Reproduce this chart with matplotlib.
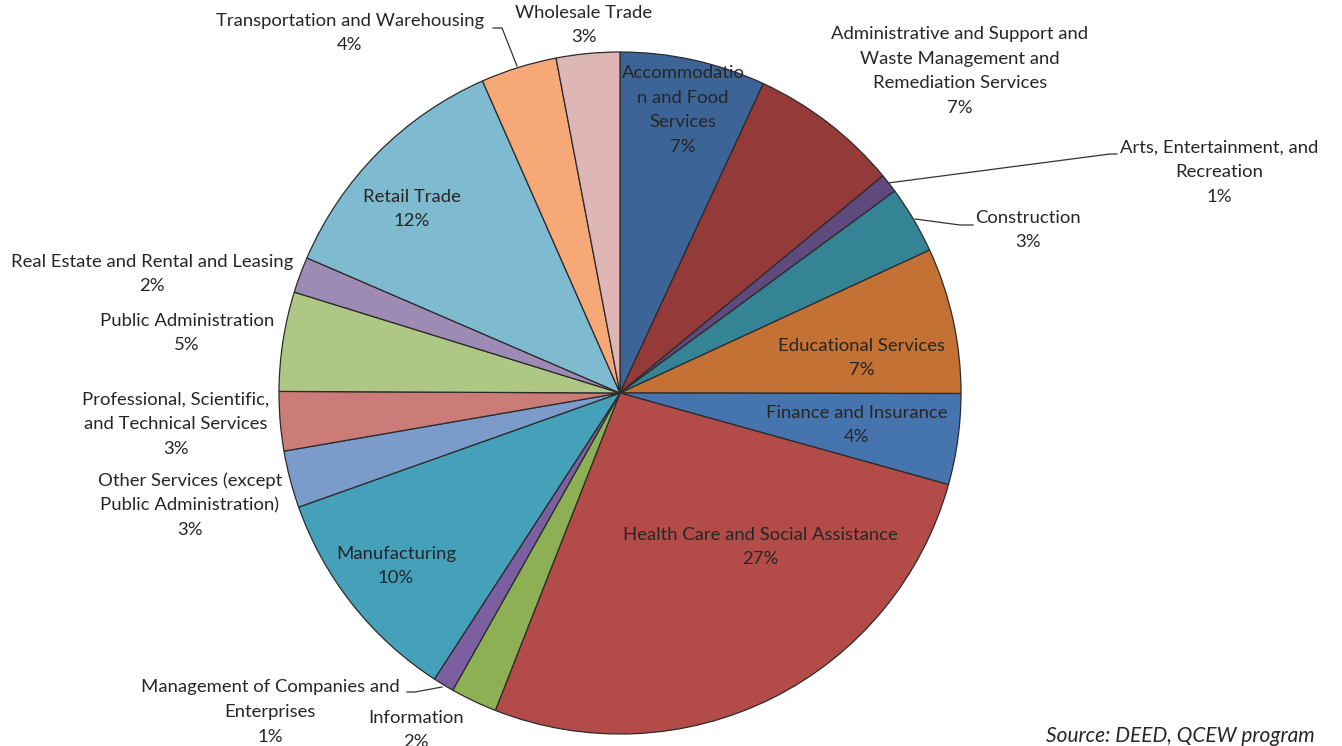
import matplotlib
matplotlib.use("Agg")
import matplotlib.pyplot as plt

# ---- data ----
categories = [
    "Accommodation and Food Services",
    "Administrative and Support and Waste Management and Remediation Services",
    "Arts, Entertainment, and Recreation",
    "Construction",
    "Educational Services",
    "Finance and Insurance",
    "Health Care and Social Assistance",
    "Information",
    "Management of Companies and Enterprises",
    "Manufacturing",
    "Other Services (except Public Administration)",
    "Professional, Scientific, and Technical Services",
    "Public Administration",
    "Real Estate and Rental and Leasing",
    "Retail Trade",
    "Transportation and Warehousing",
    "Wholesale Trade",
]
shares = [6.9, 7.1, 0.9, 3.2, 6.9, 4.3, 26.6, 2.2, 1.0, 10.4, 2.7, 2.8, 4.7, 1.7, 11.9, 3.6, 3.0]

# label text as wrapped in the chart
label_text = [
    "Accommodatio\nn and Food\nServices",
    "Administrative and Support and\nWaste Management and\nRemediation Services",
    "Arts, Entertainment, and\nRecreation",
    "Construction",
    "Educational Services",
    "Finance and Insurance",
    "Health Care and Social Assistance",
    "Information",
    "Management of Companies and\nEnterprises",
    "Manufacturing",
    "Other Services (except\nPublic Administration)",
    "Professional, Scientific,\nand Technical Services",
    "Public Administration",
    "Real Estate and Rental and Leasing",
    "Retail Trade",
    "Transportation and Warehousing",
    "Wholesale Trade",
]

colors = [
    "#3C6496", "#943B3A", "#5E4A7D", "#358496", "#C47135", "#4674AF",
    "#B34B48", "#8EB055", "#7B5FA0", "#45A0BA", "#7B9BCB", "#CB7C78",
    "#AFC784", "#9D8BB6", "#7EBAD0", "#F6A977", "#DEB6B5",
]

# label block centres (pixel coordinates, layout only)
label_pos = [
    (683, 110), (960, 71), (1219, 172), (1028, 230), (862, 358), (857, 425),
    (760, 547), (416, 730), (270, 712), (396, 566), (190, 505), (176, 424),
    (187, 333), (152, 274), (412, 209), (350, 33), (584, 25),
]

# leader lines (pixel coordinates, layout only)
leaders = [
    [(888, 183), (1110, 154), (1117, 154)],
    [(915, 219), (960, 225), (973, 225)],
    [(442, 687), (415, 692), (407, 692)],
    [(517, 66), (502, 28), (493, 28)],
]

W, H = 1342, 746
fig = plt.figure(figsize=(W / 100, H / 100), dpi=100)
ax = fig.add_axes([0, 0, 1, 1])

center = (620, 393)
radius = 341
wedges, _ = ax.pie(
    shares, colors=colors, startangle=-90, counterclock=True,
    center=center, radius=radius,
    wedgeprops=dict(edgecolor="#2b2b2b", linewidth=0.9),
)
ax.set_xlim(0, W)
ax.set_ylim(H, 0)
ax.set_aspect("equal")
ax.axis("off")

txt_color = "#262626"
font = ["Lato", "DejaVu Sans"]
fs = 13.3
for lbl, v, (x, y) in zip(label_text, shares, label_pos):
    ax.text(x, y, f"{lbl}\n{int(v + 0.5)}%", ha="center", va="center",
            fontsize=fs, family=font, color=txt_color, linespacing=1.66)

for pts in leaders:
    xs = [p[0] for p in pts]
    ys = [p[1] for p in pts]
    ax.plot(xs, ys, color="#333333", linewidth=0.9)

ax.text(1315, 736, "Source: DEED, QCEW program", ha="right", va="center",
        fontsize=15, family=font, style="italic", color=txt_color)

fig.savefig("out.png", dpi=100)
